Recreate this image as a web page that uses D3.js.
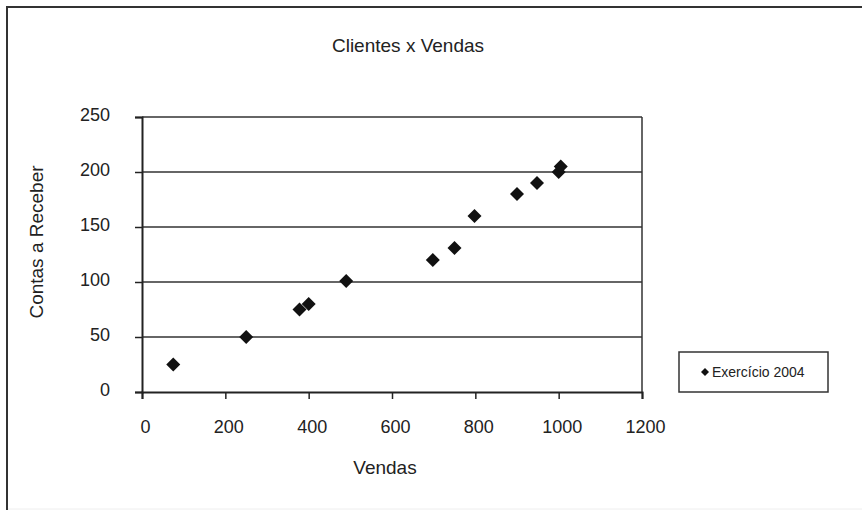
<!DOCTYPE html>
<html>
<head>
<meta charset="utf-8">
<script src="https://cdn.jsdelivr.net/npm/d3@7"></script>
<style>
  body { margin: 0; background: #fff; }
  svg text { font-family: "Liberation Sans", Arial, sans-serif; fill: #222; }
</style>
</head>
<body>
<div id="chart"></div>
<script>
// data
const vendas = [75, 250, 378, 400, 490, 698, 750, 798, 900, 948, 1000, 1005];
const contas = [25, 50, 75, 80, 101, 120, 131, 160, 180, 190, 200, 205];
const xTicks = [0, 200, 400, 600, 800, 1000, 1200];
const yTicks = [0, 50, 100, 150, 200, 250];
const seriesName = "Exercício 2004";

const width = 862, height = 510;
const margin = {left: 142, right: 220, top: 117, bottom: 118};

const svg = d3.select("#chart").append("svg")
  .attr("width", width)
  .attr("height", height);

// outer frame (left + top dark, bottom faint)
svg.append("line").attr("x1", 7).attr("x2", 7).attr("y1", 6).attr("y2", 510)
  .attr("stroke", "#333").attr("stroke-width", 2);
svg.append("line").attr("x1", 6).attr("x2", 862).attr("y1", 7).attr("y2", 7)
  .attr("stroke", "#333").attr("stroke-width", 2);
svg.append("line").attr("x1", 8).attr("x2", 862).attr("y1", 509).attr("y2", 509)
  .attr("stroke", "#eee").attr("stroke-width", 1);

const x = d3.scaleLinear().domain([0, 1200]).range([margin.left, width - margin.right]);
const y = d3.scaleLinear().domain([0, 250]).range([height - margin.bottom, margin.top]);

// gridlines
svg.append("g").selectAll("line")
  .data(yTicks.filter(d => d > 0))
  .join("line")
    .attr("x1", x(0)).attr("x2", x(1200))
    .attr("y1", d => y(d)).attr("y2", d => y(d))
    .attr("stroke", "#333").attr("stroke-width", 1.5);

// right border of plot
svg.append("line")
  .attr("x1", x(1200)).attr("x2", x(1200))
  .attr("y1", y(250)).attr("y2", y(0))
  .attr("stroke", "#333").attr("stroke-width", 1.5);

// axes
const xAxis = svg.append("g")
  .attr("transform", `translate(0,${y(0)})`)
  .call(d3.axisBottom(x).tickValues(xTicks).tickSize(7).tickPadding(21).tickFormat(d3.format("d")));
const yAxis = svg.append("g")
  .attr("transform", `translate(${x(0)},0)`)
  .call(d3.axisLeft(y).tickValues(yTicks).tickSize(7).tickPadding(25).tickFormat(d3.format("d")));

[xAxis, yAxis].forEach(a => {
  a.select(".domain").attr("stroke", "#222").attr("stroke-width", 2);
  a.selectAll(".tick line").attr("stroke", "#222").attr("stroke-width", 1.5);
  a.selectAll(".tick text").attr("font-size", 18).attr("fill", "#222")
    .style("font-family", "'Liberation Sans', Arial, sans-serif");
});
xAxis.selectAll(".tick text").attr("dx", 3);
yAxis.selectAll(".tick text").attr("dy", "0.2em");

// diamond marker
const diamond = r => `M0,${-r}L${r},0L0,${r}L${-r},0Z`;

svg.append("g").selectAll("path")
  .data(vendas.map((v, i) => [v, contas[i]]))
  .join("path")
    .attr("d", diamond(7))
    .attr("transform", d => `translate(${x(d[0])},${y(d[1])})`)
    .attr("fill", "#111");

// titles
svg.append("text")
  .attr("x", 408).attr("y", 52)
  .attr("text-anchor", "middle")
  .attr("font-size", 19)
  .text("Clientes x Vendas");

svg.append("text")
  .attr("x", 385).attr("y", 474)
  .attr("text-anchor", "middle")
  .attr("font-size", 19)
  .text("Vendas");

svg.append("text")
  .attr("transform", `translate(43,242) rotate(-90)`)
  .attr("text-anchor", "middle")
  .attr("font-size", 19)
  .text("Contas a Receber");

// legend
const legend = svg.append("g").attr("transform", "translate(679,352)");
legend.append("rect")
  .attr("width", 149).attr("height", 40)
  .attr("fill", "#fff").attr("stroke", "#333").attr("stroke-width", 1.5);
legend.append("path")
  .attr("d", diamond(4))
  .attr("transform", "translate(26,20)")
  .attr("fill", "#111");
legend.append("text")
  .attr("x", 33).attr("y", 25)
  .attr("font-size", 14)
  .text(seriesName);
</script>
</body>
</html>
